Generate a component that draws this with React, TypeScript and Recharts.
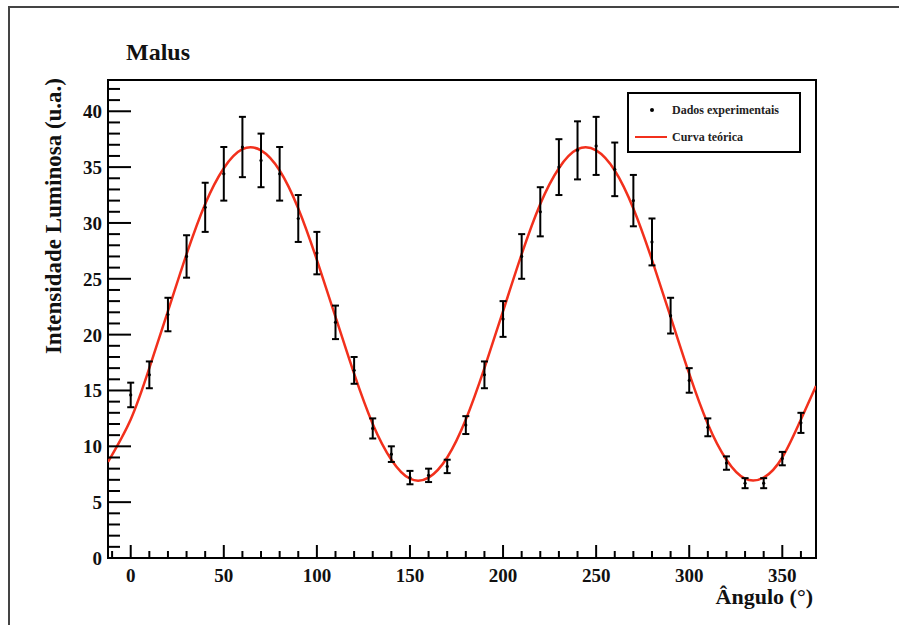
import { ComposedChart, Line, Scatter, ErrorBar, XAxis, YAxis, ReferenceArea } from 'recharts';

// measured points (angle in degrees, intensity, error)
const angles = [0, 10, 20, 30, 40, 50, 60, 70, 80, 90, 100, 110, 120, 130, 140, 150, 160, 170, 180,
  190, 200, 210, 220, 230, 240, 250, 260, 270, 280, 290, 300, 310, 320, 330, 340, 350, 360];
const intensity = [14.6, 16.4, 21.8, 27.0, 31.4, 34.4, 36.8, 35.6, 34.4, 30.4, 27.3, 21.1, 16.8, 11.6, 9.3, 7.2, 7.4, 8.2, 11.9,
  16.4, 21.4, 27.0, 31.0, 35.0, 36.5, 36.9, 34.8, 32.0, 28.3, 21.7, 15.9, 11.7, 8.5, 6.7, 6.7, 8.9, 12.1];
const errors = [1.1, 1.2, 1.5, 1.9, 2.2, 2.4, 2.7, 2.4, 2.4, 2.1, 1.9, 1.5, 1.2, 0.9, 0.7, 0.6, 0.6, 0.6, 0.8,
  1.2, 1.6, 2.0, 2.2, 2.5, 2.6, 2.6, 2.4, 2.3, 2.1, 1.6, 1.1, 0.8, 0.6, 0.45, 0.45, 0.6, 0.9];

// theoretical curve
const curveAngles = [-12.2, 0, 10, 20, 30, 40, 50, 60, 70, 80, 90, 100, 110, 120, 130, 140, 150, 160, 170, 180,
  190, 200, 210, 220, 230, 240, 250, 260, 270, 280, 290, 300, 310, 320, 330, 340, 350, 360, 368.1];
const curveValues = [8.6, 12.4, 17.0, 22.1, 27.2, 31.7, 34.9, 36.6, 36.5, 34.7, 31.3, 26.7, 21.6, 16.5, 12.0, 8.8, 7.1, 7.2, 9.0, 12.4,
  17.0, 22.1, 27.2, 31.7, 34.9, 36.6, 36.5, 34.7, 31.3, 26.7, 21.6, 16.5, 12.0, 8.8, 7.1, 7.2, 9.0, 12.4, 15.4];

const xTicks = [-10, 0, 10, 20, 30, 40, 50, 60, 70, 80, 90, 100, 110, 120, 130, 140, 150, 160, 170, 180,
  190, 200, 210, 220, 230, 240, 250, 260, 270, 280, 290, 300, 310, 320, 330, 340, 350, 360];
const yTicks = [0, 1, 2, 3, 4, 5, 6, 7, 8, 9, 10, 11, 12, 13, 14, 15, 16, 17, 18, 19, 20,
  21, 22, 23, 24, 25, 26, 27, 28, 29, 30, 31, 32, 33, 34, 35, 36, 37, 38, 39, 40, 41, 42];
const xLabels = [0, 50, 100, 150, 200, 250, 300, 350];
const yLabels = [0, 5, 10, 15, 20, 25, 30, 35, 40];

const points = angles.map((a, i) => ({ angle: a, value: intensity[i], err: errors[i] }));
const curve = curveAngles.map((a, i) => ({ angle: a, curve: curveValues[i] }));

const FONT = "Liberation Serif, DejaVu Serif, serif";
const RED = '#f2301c';

const XTick = (props: any) => {
  const { x, y, payload } = props;
  const v = payload.value;
  const major = xLabels.includes(v);
  return (
    <g>
      <line x1={x} x2={x} y1={y} y2={y - (major ? 13 : 7)} stroke="#000" strokeWidth={2} />
      {major && (
        <text x={x} y={y + 24} textAnchor="middle" style={{ fontFamily: FONT }} fontWeight="bold" fontSize={19} fill="#111">
          {v}
        </text>
      )}
    </g>
  );
};

const YTick = (props: any) => {
  const { x, y, payload } = props;
  const v = payload.value;
  const major = yLabels.includes(v);
  return (
    <g>
      <line x1={x} x2={x + (major ? 23 : 12)} y1={y} y2={y} stroke="#000" strokeWidth={2} />
      {major && (
        <text x={x - 6} y={y + 7} textAnchor="end" style={{ fontFamily: FONT }} fontWeight="bold" fontSize={19} fill="#111">
          {v}
        </text>
      )}
    </g>
  );
};

const Dot = (props: any) => <circle cx={props.cx} cy={props.cy} r={1.6} fill="#000" />;

export default function App() {
  return (
    <div style={{ position: 'absolute', left: 0, top: 0, width: 899, height: 625, background: '#fff', overflow: 'hidden' }}>
      <div style={{ position: 'absolute', left: 8, top: 6, width: 891, height: 619, borderTop: '2px solid #444', borderLeft: '2px solid #444' }} />
      <ComposedChart width={899} height={625} margin={{ top: 80, right: 83, bottom: 27, left: 48 }}>
        <XAxis
          dataKey="angle"
          type="number"
          domain={[-12.2, 368.1]}
          allowDataOverflow
          ticks={xTicks}
          interval={0}
          height={40}
          axisLine={false}
          tickLine={false}
          tickSize={0}
          tickMargin={0}
          tick={<XTick />}
        />
        <YAxis
          type="number"
          domain={[0, 42.8]}
          allowDataOverflow
          ticks={yTicks}
          interval={0}
          width={60}
          axisLine={false}
          tickLine={false}
          tickSize={0}
          tickMargin={0}
          tick={<YTick />}
        />
        <ReferenceArea x1={-12.2} x2={368.1} y1={0} y2={42.8} fill="none" stroke="#000" strokeWidth={2} ifOverflow="visible" />
        <Line data={curve} dataKey="curve" type="natural" stroke={RED} strokeWidth={2.5} dot={false} isAnimationActive={false} />
        <Scatter data={points} dataKey="value" shape={<Dot />} isAnimationActive={false}>
          <ErrorBar dataKey="err" direction="y" width={3.5} stroke="#000" strokeWidth={2} isAnimationActive={false} />
        </Scatter>
      </ComposedChart>
      <svg width={899} height={625} style={{ position: 'absolute', left: 0, top: 0, pointerEvents: 'none', fontFamily: FONT }}>
        <text x={126} y={60} fontWeight="bold" fontSize={24} fill="#111">Malus</text>
        <text x={61} y={78} transform="rotate(-90, 61, 78)" textAnchor="end" fontWeight="bold" fontSize={23} fill="#111">
          Intensidade Luminosa (u.a.)
        </text>
        <text x={813} y={604} textAnchor="end" fontWeight="bold" fontSize={22} fill="#111">Ângulo (°)</text>
        <rect x={628} y={93} width={172} height={59} fill="#fff" stroke="#000" strokeWidth={2} />
        <circle cx={652} cy={110} r={2} fill="#000" />
        <text x={672} y={114} fontWeight="bold" fontSize={12} fill="#222">Dados experimentais</text>
        <line x1={635} x2={667} y1={137} y2={137} stroke={RED} strokeWidth={2} />
        <text x={672} y={141} fontWeight="bold" fontSize={12} fill="#222">Curva teórica</text>
      </svg>
    </div>
  );
}
